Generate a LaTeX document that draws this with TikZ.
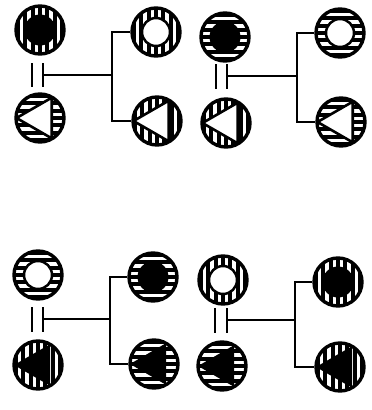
\documentclass[tikz,border=0pt]{standalone}
\usetikzlibrary{calc}

% hatching and inner symbols, drawn in a frame centred on the disk
\newcommand\StripesV{\foreach \k in {-4,...,4}{\fill (\k*7.4-2,-30) rectangle (\k*7.4+2,30);}}
\newcommand\StripesH{\foreach \k in {-4,...,4}{\fill (-30,\k*7.4-2) rectangle (30,\k*7.4+2);}}
\newcommand\InnerOpenCirc{\filldraw[fill=white,line width=2.5pt] (0,0) circle (14);}
\newcommand\InnerBlackCirc{\fill (0,0) circle (15.5);}
\newcommand\InnerOpenTri{\filldraw[fill=white,line width=2.6pt,line join=round] (180:23.5) -- (60:23.5) -- (-60:23.5) -- cycle;}
\newcommand\InnerBlackTri{\fill (180:24) -- (60:24) -- (-60:24) -- cycle;}

\tikzset{
  tokendisk/.style={circle,draw,line width=3.4pt,minimum size=48pt,inner sep=0pt},
  sym/.style={path picture={\begin{scope}[shift={(path picture bounding box.center)}]#1\end{scope}}},
  bar/.style={line width=2.8pt},
  link/.style={line width=2.3pt}
}

\begin{document}
\begin{tikzpicture}[x=1pt,y=-1pt]
\useasboundingbox (0,0) rectangle (372,410);

% ---- upper left group
\node[tokendisk,sym={\StripesV\InnerBlackCirc}] (a1) at (40,30) {};
\node[tokendisk,sym={\StripesH\InnerOpenTri}]   (b1) at (40,118) {};
\node[tokendisk,sym={\StripesV\InnerOpenCirc}]  (c1) at (156,32) {};
\node[tokendisk,sym={\StripesV\InnerOpenTri}]   (d1) at (157,121) {};
\coordinate (p1t) at (32,63); \coordinate (p1b) at (32,87);
\coordinate (q1t) at (43,63); \coordinate (q1b) at (43,87);
\coordinate (j1) at (112,75);
\draw[bar] (p1t) -- (p1b) (q1t) -- (q1b);
\draw[link] (q1t |- j1) -- (j1);
\draw[link] (c1.west) -| (j1) |- (d1.west);

% ---- upper right group
\node[tokendisk,sym={\StripesH\InnerBlackCirc}] (a2) at (225,37) {};
\node[tokendisk,sym={\StripesV\InnerOpenTri}]   (b2) at (226,123) {};
\node[tokendisk,sym={\StripesH\InnerOpenCirc}]  (c2) at (340,33) {};
\node[tokendisk,sym={\StripesH\InnerOpenTri}]   (d2) at (341,122) {};
\coordinate (p2t) at (216,64); \coordinate (p2b) at (216,89);
\coordinate (q2t) at (227,64); \coordinate (q2b) at (227,89);
\coordinate (j2) at (297,76);
\draw[bar] (p2t) -- (p2b) (q2t) -- (q2b);
\draw[link] (q2t |- j2) -- (j2);
\draw[link] (c2.west) -| (j2) |- (d2.west);

% ---- lower left group
\node[tokendisk,sym={\StripesH\InnerOpenCirc}]  (a3) at (38,275) {};
\node[tokendisk,sym={\StripesV\InnerBlackTri}]  (b3) at (38,365) {};
\node[tokendisk,sym={\StripesH\InnerBlackCirc}] (c3) at (153,277) {};
\node[tokendisk,sym={\StripesH\InnerBlackTri}]  (d3) at (154,364) {};
\coordinate (p3t) at (32,307); \coordinate (p3b) at (32,332);
\coordinate (q3t) at (43,307); \coordinate (q3b) at (43,332);
\coordinate (j3) at (110,319);
\draw[bar] (p3t) -- (p3b) (q3t) -- (q3b);
\draw[link] (q3t |- j3) -- (j3);
\draw[link] (c3.west) -| (j3) |- (d3.west);

% ---- lower right group
\node[tokendisk,sym={\StripesV\InnerOpenCirc}]  (a4) at (223,280) {};
\node[tokendisk,sym={\StripesH\InnerBlackTri}]  (b4) at (222,366) {};
\node[tokendisk,sym={\StripesV\InnerBlackCirc}] (c4) at (338,282) {};
\node[tokendisk,sym={\StripesV\InnerBlackTri}]  (d4) at (340,367) {};
\coordinate (p4t) at (215,308); \coordinate (p4b) at (215,333);
\coordinate (q4t) at (227,308); \coordinate (q4b) at (227,333);
\coordinate (j4) at (295,320);
\draw[bar] (p4t) -- (p4b) (q4t) -- (q4b);
\draw[link] (q4t |- j4) -- (j4);
\draw[link] (c4.west) -| (j4) |- (d4.west);
\end{tikzpicture}
\end{document}
